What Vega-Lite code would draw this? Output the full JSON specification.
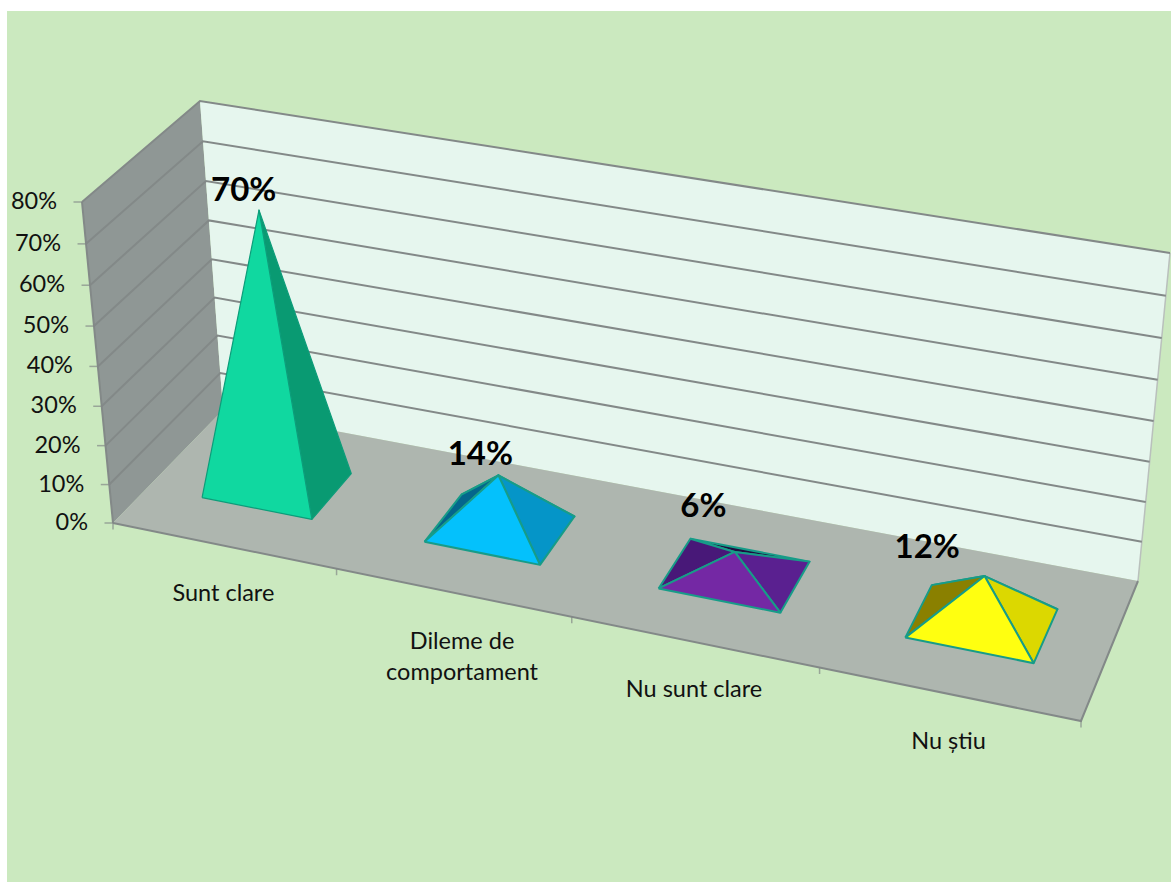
{"$schema":"https://vega.github.io/schema/vega-lite/v6.json","autosize":"none","padding":{"left":7,"top":11,"right":0,"bottom":0},"width":1164,"height":871,"background":"white","view":{"fill":"#cbe9bf","stroke":null},"config":{"font":"Lato"},
"resolve":{"scale":{"fill":"independent"}},
"data":{"values":[
{"kind":"panel","part":"left wall","seq":1,"u":0,"w":0,"h":0},{"kind":"panel","part":"left wall","seq":2,"u":0,"w":1,"h":0},{"kind":"panel","part":"left wall","seq":3,"u":0,"w":1,"h":80},{"kind":"panel","part":"left wall","seq":4,"u":0,"w":0,"h":80},
{"kind":"panel","part":"back wall","seq":1,"u":0,"w":1,"h":0},{"kind":"panel","part":"back wall","seq":2,"u":4,"w":1,"h":0},{"kind":"panel","part":"back wall","seq":3,"u":4,"w":1,"h":80},{"kind":"panel","part":"back wall","seq":4,"u":0,"w":1,"h":80},
{"kind":"panel","part":"floor","seq":1,"u":0,"w":0,"h":0},{"kind":"panel","part":"floor","seq":2,"u":4,"w":0,"h":0},{"kind":"panel","part":"floor","seq":3,"u":4,"w":1,"h":0},{"kind":"panel","part":"floor","seq":4,"u":0,"w":1,"h":0},
{"kind":"lightedge","part":"right","seq":1,"u":4,"w":1,"h":0},{"kind":"lightedge","part":"right","seq":2,"u":4,"w":1,"h":80},
{"kind":"edge","part":"front","seq":1,"u":0,"w":0,"h":0},{"kind":"edge","part":"front","seq":2,"u":4,"w":0,"h":0},{"kind":"edge","part":"front","seq":3,"u":4,"w":1,"h":0},
{"kind":"edge","part":"axis","seq":1,"u":0,"w":0,"h":0},{"kind":"edge","part":"axis","seq":2,"u":0,"w":0,"h":80},
{"kind":"edge","part":"g10","seq":1,"u":0,"w":0,"h":10},{"kind":"edge","part":"g10","seq":2,"u":0,"w":1,"h":10},{"kind":"edge","part":"g10","seq":3,"u":4,"w":1,"h":10},
{"kind":"edge","part":"g20","seq":1,"u":0,"w":0,"h":20},{"kind":"edge","part":"g20","seq":2,"u":0,"w":1,"h":20},{"kind":"edge","part":"g20","seq":3,"u":4,"w":1,"h":20},
{"kind":"edge","part":"g30","seq":1,"u":0,"w":0,"h":30},{"kind":"edge","part":"g30","seq":2,"u":0,"w":1,"h":30},{"kind":"edge","part":"g30","seq":3,"u":4,"w":1,"h":30},
{"kind":"edge","part":"g40","seq":1,"u":0,"w":0,"h":40},{"kind":"edge","part":"g40","seq":2,"u":0,"w":1,"h":40},{"kind":"edge","part":"g40","seq":3,"u":4,"w":1,"h":40},
{"kind":"edge","part":"g50","seq":1,"u":0,"w":0,"h":50},{"kind":"edge","part":"g50","seq":2,"u":0,"w":1,"h":50},{"kind":"edge","part":"g50","seq":3,"u":4,"w":1,"h":50},
{"kind":"edge","part":"g60","seq":1,"u":0,"w":0,"h":60},{"kind":"edge","part":"g60","seq":2,"u":0,"w":1,"h":60},{"kind":"edge","part":"g60","seq":3,"u":4,"w":1,"h":60},
{"kind":"edge","part":"g70","seq":1,"u":0,"w":0,"h":70},{"kind":"edge","part":"g70","seq":2,"u":0,"w":1,"h":70},{"kind":"edge","part":"g70","seq":3,"u":4,"w":1,"h":70},
{"kind":"edge","part":"g80","seq":1,"u":0,"w":0,"h":80},{"kind":"edge","part":"g80","seq":2,"u":0,"w":1,"h":80},{"kind":"edge","part":"g80","seq":3,"u":4,"w":1,"h":80},
{"kind":"ytick","label":"0%","u":0,"w":0,"h":0},{"kind":"ytick","label":"10%","u":0,"w":0,"h":10},{"kind":"ytick","label":"20%","u":0,"w":0,"h":20},{"kind":"ytick","label":"30%","u":0,"w":0,"h":30},{"kind":"ytick","label":"40%","u":0,"w":0,"h":40},{"kind":"ytick","label":"50%","u":0,"w":0,"h":50},{"kind":"ytick","label":"60%","u":0,"w":0,"h":60},{"kind":"ytick","label":"70%","u":0,"w":0,"h":70},{"kind":"ytick","label":"80%","u":0,"w":0,"h":80},
{"kind":"xtick","u":0,"w":0,"h":0},{"kind":"xtick","u":1,"w":0,"h":0},{"kind":"xtick","u":2,"w":0,"h":0},{"kind":"xtick","u":3,"w":0,"h":0},{"kind":"xtick","u":4,"w":0,"h":0},
{"kind":"category","label":"Sunt clare","u":0.5,"w":0,"h":0},{"kind":"category","label":"Dileme de\ncomportament","u":1.54,"w":0,"h":0},{"kind":"category","label":"Nu sunt clare","u":2.5,"w":0,"h":0},{"kind":"category","label":"Nu știu","u":3.5,"w":0,"h":0},
{"kind":"value","label":"70%","u":0.445,"w":0.49,"h":70},{"kind":"value","label":"14%","u":1.43,"w":0.494,"h":14},{"kind":"value","label":"6%","u":2.325,"w":0.648,"h":6},{"kind":"value","label":"12%","u":3.28,"w":0.495,"h":12},

{"kind":"pyramid1","part":"Sunt clare right","seq":1,"u":0.75,"w":0.32,"h":0},{"kind":"pyramid1","part":"Sunt clare right","seq":2,"u":0.75,"w":0.71,"h":0},{"kind":"pyramid1","part":"Sunt clare right","seq":3,"u":0.5,"w":0.515,"h":70},{"kind":"pyramid1","part":"Sunt clare right","seq":4,"u":0.75,"w":0.32,"h":0},
{"kind":"pyramid1","part":"Sunt clare front","seq":1,"u":0.25,"w":0.32,"h":0},{"kind":"pyramid1","part":"Sunt clare front","seq":2,"u":0.75,"w":0.32,"h":0},{"kind":"pyramid1","part":"Sunt clare front","seq":3,"u":0.5,"w":0.515,"h":70},{"kind":"pyramid1","part":"Sunt clare front","seq":4,"u":0.25,"w":0.32,"h":0},

{"kind":"pyramid","part":"Dileme back","seq":1,"u":1.25,"w":0.71,"h":0},{"kind":"pyramid","part":"Dileme back","seq":2,"u":1.75,"w":0.71,"h":0},{"kind":"pyramid","part":"Dileme back","seq":3,"u":1.5,"w":0.515,"h":14},{"kind":"pyramid","part":"Dileme back","seq":4,"u":1.25,"w":0.71,"h":0},
{"kind":"pyramid","part":"Dileme left","seq":1,"u":1.25,"w":0.32,"h":0},{"kind":"pyramid","part":"Dileme left","seq":2,"u":1.25,"w":0.71,"h":0},{"kind":"pyramid","part":"Dileme left","seq":3,"u":1.5,"w":0.515,"h":14},{"kind":"pyramid","part":"Dileme left","seq":4,"u":1.25,"w":0.32,"h":0},
{"kind":"pyramid","part":"Dileme right","seq":1,"u":1.75,"w":0.32,"h":0},{"kind":"pyramid","part":"Dileme right","seq":2,"u":1.75,"w":0.71,"h":0},{"kind":"pyramid","part":"Dileme right","seq":3,"u":1.5,"w":0.515,"h":14},{"kind":"pyramid","part":"Dileme right","seq":4,"u":1.75,"w":0.32,"h":0},
{"kind":"pyramid","part":"Dileme front","seq":1,"u":1.25,"w":0.32,"h":0},{"kind":"pyramid","part":"Dileme front","seq":2,"u":1.75,"w":0.32,"h":0},{"kind":"pyramid","part":"Dileme front","seq":3,"u":1.5,"w":0.515,"h":14},{"kind":"pyramid","part":"Dileme front","seq":4,"u":1.25,"w":0.32,"h":0},

{"kind":"pyramid","part":"Nu sunt back","seq":1,"u":2.25,"w":0.71,"h":0},{"kind":"pyramid","part":"Nu sunt back","seq":2,"u":2.75,"w":0.71,"h":0},{"kind":"pyramid","part":"Nu sunt back","seq":3,"u":2.5,"w":0.515,"h":6},{"kind":"pyramid","part":"Nu sunt back","seq":4,"u":2.25,"w":0.71,"h":0},
{"kind":"pyramid","part":"Nu sunt left","seq":1,"u":2.25,"w":0.32,"h":0},{"kind":"pyramid","part":"Nu sunt left","seq":2,"u":2.25,"w":0.71,"h":0},{"kind":"pyramid","part":"Nu sunt left","seq":3,"u":2.5,"w":0.515,"h":6},{"kind":"pyramid","part":"Nu sunt left","seq":4,"u":2.25,"w":0.32,"h":0},
{"kind":"pyramid","part":"Nu sunt right","seq":1,"u":2.75,"w":0.32,"h":0},{"kind":"pyramid","part":"Nu sunt right","seq":2,"u":2.75,"w":0.71,"h":0},{"kind":"pyramid","part":"Nu sunt right","seq":3,"u":2.5,"w":0.515,"h":6},{"kind":"pyramid","part":"Nu sunt right","seq":4,"u":2.75,"w":0.32,"h":0},
{"kind":"pyramid","part":"Nu sunt front","seq":1,"u":2.25,"w":0.32,"h":0},{"kind":"pyramid","part":"Nu sunt front","seq":2,"u":2.75,"w":0.32,"h":0},{"kind":"pyramid","part":"Nu sunt front","seq":3,"u":2.5,"w":0.515,"h":6},{"kind":"pyramid","part":"Nu sunt front","seq":4,"u":2.25,"w":0.32,"h":0},

{"kind":"pyramid","part":"Nu stiu back","seq":1,"u":3.25,"w":0.71,"h":0},{"kind":"pyramid","part":"Nu stiu back","seq":2,"u":3.75,"w":0.71,"h":0},{"kind":"pyramid","part":"Nu stiu back","seq":3,"u":3.5,"w":0.515,"h":12},{"kind":"pyramid","part":"Nu stiu back","seq":4,"u":3.25,"w":0.71,"h":0},
{"kind":"pyramid","part":"Nu stiu left","seq":1,"u":3.25,"w":0.32,"h":0},{"kind":"pyramid","part":"Nu stiu left","seq":2,"u":3.25,"w":0.71,"h":0},{"kind":"pyramid","part":"Nu stiu left","seq":3,"u":3.5,"w":0.515,"h":12},{"kind":"pyramid","part":"Nu stiu left","seq":4,"u":3.25,"w":0.32,"h":0},
{"kind":"pyramid","part":"Nu stiu right","seq":1,"u":3.75,"w":0.32,"h":0},{"kind":"pyramid","part":"Nu stiu right","seq":2,"u":3.75,"w":0.71,"h":0},{"kind":"pyramid","part":"Nu stiu right","seq":3,"u":3.5,"w":0.515,"h":12},{"kind":"pyramid","part":"Nu stiu right","seq":4,"u":3.75,"w":0.32,"h":0},
{"kind":"pyramid","part":"Nu stiu front","seq":1,"u":3.25,"w":0.32,"h":0},{"kind":"pyramid","part":"Nu stiu front","seq":2,"u":3.75,"w":0.32,"h":0},{"kind":"pyramid","part":"Nu stiu front","seq":3,"u":3.5,"w":0.515,"h":12},{"kind":"pyramid","part":"Nu stiu front","seq":4,"u":3.25,"w":0.32,"h":0}
]},
"transform":[
{"calculate":"(datum.u/4)/(datum.u/4+1.11*(1-datum.u/4))","as":"t"},
{"calculate":"(datum.h/80)/(datum.h/80+1.05*(1-datum.h/80))","as":"q"},
{"calculate":"(1-datum.q)*((1-datum.t)*((1-datum.w)*113+datum.w*223)+datum.t*((1-datum.w)*1081+datum.w*1138))+datum.q*((1-datum.t)*((1-datum.w)*82+datum.w*200)+datum.t*((1-datum.w)*1105+datum.w*1170))","as":"sx"},
{"calculate":"(1-datum.q)*((1-datum.t)*((1-datum.w)*523+datum.w*410)+datum.t*((1-datum.w)*721+datum.w*581))+datum.q*((1-datum.t)*((1-datum.w)*202+datum.w*101)+datum.t*((1-datum.w)*381+datum.w*253))","as":"sy"}
],
"encoding":{
"x":{"field":"sx","type":"quantitative","scale":{"domain":[7,1171]},"axis":null},
"y":{"field":"sy","type":"quantitative","scale":{"domain":[882,11]},"axis":null}
},
"layer":[
{"transform":[{"filter":"datum.kind==='panel'"}],"mark":{"type":"line","strokeWidth":0,"clip":false},"encoding":{"order":{"field":"seq"},"fill":{"field":"part","type":"nominal","legend":null,"scale":{"domain":["left wall","back wall","floor"],"range":["#8f9795","#e6f6ee","#aeb6af"]}}}},
{"transform":[{"filter":"datum.kind==='lightedge'"}],"mark":{"type":"line","stroke":"#b9c0bc","strokeWidth":1.5},"encoding":{"order":{"field":"seq"},"detail":{"field":"part"}}},
{"transform":[{"filter":"datum.kind==='edge'"}],"mark":{"type":"line","stroke":"#838988","strokeWidth":2},"encoding":{"order":{"field":"seq"},"detail":{"field":"part"}}},
{"transform":[{"filter":"datum.kind==='ytick'"}],"mark":{"type":"tick","orient":"horizontal","size":9,"thickness":1.5,"xOffset":-4,"color":"#838988"}},
{"transform":[{"filter":"datum.kind==='xtick'"}],"mark":{"type":"tick","orient":"vertical","size":7,"thickness":1.5,"yOffset":3,"color":"#838988"}},
{"transform":[{"filter":"datum.kind==='ytick'"}],"mark":{"type":"text","align":"right","baseline":"middle","dx":-25,"fontSize":23.5,"color":"#111111"},"encoding":{"text":{"field":"label"}}},
{"transform":[{"filter":"datum.kind==='category'"}],"mark":{"type":"text","align":"center","baseline":"top","dy":36,"fontSize":23.5,"lineHeight":31,"lineBreak":"\n","color":"#111111"},"encoding":{"text":{"field":"label"}}},
{"transform":[{"filter":"datum.kind==='pyramid1'"}],"mark":{"type":"line","stroke":"#0d9d7a","strokeWidth":1.2,"strokeJoin":"round"},"encoding":{"order":{"field":"seq"},"fill":{"field":"part","type":"nominal","legend":null,"scale":{"domain":["Sunt clare right","Sunt clare front"],"range":["#099a72","#10d8a0"]}}}},
{"transform":[{"filter":"datum.kind==='pyramid'"}],"mark":{"type":"line","stroke":"#179c88","strokeWidth":2,"strokeJoin":"round"},"encoding":{"order":{"field":"seq"},"fill":{"field":"part","type":"nominal","legend":null,"scale":{"domain":["Dileme back","Dileme left","Dileme right","Dileme front","Nu sunt back","Nu sunt left","Nu sunt right","Nu sunt front","Nu stiu back","Nu stiu left","Nu stiu right","Nu stiu front"],"range":["#023a52","#04668c","#0595c8","#04c1fc","#1e0e40","#481878","#5a2090","#7428a4","#5f5a00","#8a8000","#dcd800","#ffff10"]}}}},
{"transform":[{"filter":"datum.kind==='value'"}],"mark":{"type":"text","align":"center","baseline":"middle","dy":-20,"fontSize":33,"fontWeight":"bold","color":"#000000"},"encoding":{"text":{"field":"label"}}}
]}
